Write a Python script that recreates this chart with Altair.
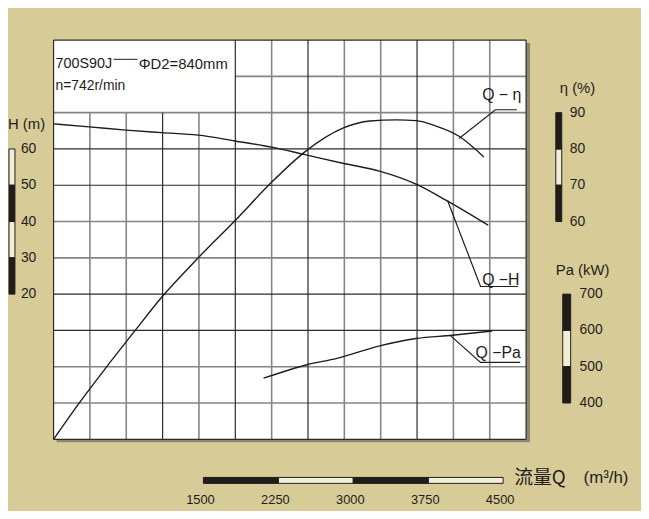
import altair as alt
import pandas as pd

# ---------------- data ----------------
QMAX = 4730.0
GRID_DOMAIN = [0, 110]     # also the efficiency (%) scale
H_DOMAIN = [-20, 90]       # head (m)
PA_DOMAIN = [300, 1400]    # shaft power (kW)

# Q-H curve (m)
qh_q = [0, 357, 724, 1081, 1448, 1815, 2182, 2506, 2906, 3262, 3629, 3927, 4350]
qh_h = [66.9, 66.1, 65.2, 64.5, 63.8, 62.2, 60.5, 58.5, 56.0, 53.9, 50.3, 45.9, 39.0]

# Q-eta curve (%)
qe_q = [0, 238, 535, 823, 1084, 1448, 1818, 2182, 2506, 2902, 3166, 3431, 3629, 3828, 4059, 4307]
qe_eta = [0, 9.3, 20.1, 30.2, 39.2, 50.0, 60.3, 70.8, 79.0, 85.8, 87.7, 88.0, 87.8, 86.3, 83.5, 77.8]

# Q-Pa curve (kW)
qp_q = [2102, 2538, 2836, 3265, 3629, 3993, 4390]
qp_pa = [468.4, 505.5, 523.0, 557.4, 577.6, 586.6, 598.3]

# scale bars (lo, hi, kind)  d = dark, l = light
h_seg_lo = [50, 40, 30, 20]
h_seg_hi = [60, 50, 40, 30]
h_seg_kind = ["l", "d", "l", "d"]
h_ticks = [60, 50, 40, 30, 20]

eta_seg_lo = [80, 70, 60]
eta_seg_hi = [90, 80, 70]
eta_seg_kind = ["d", "l", "d"]
eta_ticks = [90, 80, 70, 60]

pa_seg_lo = [600, 500, 400]
pa_seg_hi = [700, 600, 500]
pa_seg_kind = ["d", "l", "d"]
pa_ticks = [700, 600, 500, 400]

q_seg_lo = [1500, 2250, 3000, 3750]
q_seg_hi = [2250, 3000, 3750, 4500]
q_seg_kind = ["d", "l", "d", "l"]
q_ticks = [1500, 2250, 3000, 3750, 4500]

# leader lines for curve labels (Q, grid units)
lead_grp = ["eta", "eta", "eta", "H", "H", "H", "Pa", "Pa", "Pa"]
lead_q = [4638, 4423, 4059, 4648, 4274, 3944, 4671, 4274, 3976]
lead_h = [90.8, 90.8, 82.9, 42.1, 42.1, 65.8, 21.2, 21.2, 28.5]

curve_labels = ["Q − η", "Q −H", "Q −Pa"]
curve_label_q = [4486, 4477, 4451]
curve_label_h = [94.9, 43.9, 23.9]

# ---------------- styles ----------------
BG = "#d7cc98"
INK = "#1f1c1a"
LIGHT = "#f3eed8"
GRID_G = "#858585"
GRID_D = "#2b2b2b"
FONT = "Liberation Sans"

xs = alt.Scale(domain=[0, QMAX], nice=False, zero=False)
gs = alt.Scale(domain=GRID_DOMAIN, nice=False, zero=False)
hs = alt.Scale(domain=H_DOMAIN, nice=False, zero=False)
ps = alt.Scale(domain=PA_DOMAIN, nice=False, zero=False)


def X(f):
    return alt.X(f, type="quantitative", scale=xs, axis=None)


def YG(f):
    return alt.Y(f, type="quantitative", scale=gs, axis=None)


def YH(f):
    return alt.Y(f, type="quantitative", scale=hs, axis=None)


def YP(f):
    return alt.Y(f, type="quantitative", scale=ps, axis=None)


one = pd.DataFrame({"a": [0]})

layers = []

# shadow + white plot background
layers.append(alt.Chart(one).mark_rect(color="#8d8870").encode(
    x=alt.value(3), x2=alt.value(481), y=alt.value(3), y2=alt.value(406)))
layers.append(alt.Chart(one).mark_rect(color="white").encode(
    x=alt.value(0), x2=alt.value(477), y=alt.value(0), y2=alt.value(403)))

# grid
rows = []
dark_cols = {0, 3, 5, 7, 10, 13}
for i in range(14):
    q = QMAX * i / 13
    top = 90 if 1 <= i <= 4 else 110
    rows.append({"x": q, "x2": q, "y": 0, "y2": top, "k": "d" if i in dark_cols else "g"})
dark_rows = {0, 30, 40, 70, 80, 110}
for h in range(0, 111, 10):
    x0 = QMAX * 5 / 13 if h == 100 else 0
    rows.append({"x": x0, "x2": QMAX, "y": h, "y2": h, "k": "d" if h in dark_rows else "g"})
grid = pd.DataFrame(rows)
for k, col, w in [("g", GRID_G, 1.6), ("d", GRID_D, 1.2)]:
    layers.append(alt.Chart(grid[grid.k == k]).mark_rule(color=col, strokeWidth=w).encode(
        x=X("x"), x2="x2", y=YG("y"), y2="y2"))

# curves
df_h = pd.DataFrame({"q": qh_q, "v": qh_h})
df_e = pd.DataFrame({"q": qe_q, "v": qe_eta})
df_p = pd.DataFrame({"q": qp_q, "v": qp_pa})
layers.append(alt.Chart(df_h).mark_line(color=INK, strokeWidth=1.4, interpolate="monotone").encode(
    x=X("q"), y=YH("v")))
layers.append(alt.Chart(df_e).mark_line(color=INK, strokeWidth=1.4, interpolate="monotone").encode(
    x=X("q"), y=YG("v")))
layers.append(alt.Chart(df_p).mark_line(color=INK, strokeWidth=1.4, interpolate="monotone").encode(
    x=X("q"), y=YP("v")))

# leader lines and labels
df_lead = pd.DataFrame({"g": lead_grp, "q": lead_q, "h": lead_h, "o": list(range(len(lead_q)))})
layers.append(alt.Chart(df_lead).mark_line(color=INK, strokeWidth=1.2).encode(
    x=X("q"), y=YG("h"), detail="g:N", order="o:Q"))
df_cl = pd.DataFrame({"t": curve_labels, "q": curve_label_q, "h": curve_label_h})
layers.append(alt.Chart(df_cl).mark_text(font=FONT, fontSize=16, color=INK, align="center",
                                         baseline="middle").encode(
    x=X("q"), y=YG("h"), text="t:N"))

# top-left info box
df_info = pd.DataFrame({"t": ["700S90J", "ΦD2=840mm", "n=742r/min"],
                        "q": [20, 853, 20], "h": [103.5, 103.5, 97.2],
                        "s": [14.5, 15, 14]})
layers.append(alt.Chart(df_info).mark_text(font=FONT, color=INK, align="left",
                                           baseline="middle").encode(
    x=X("q"), y=YG("h"), text="t:N", size=alt.Size("s:Q", scale=None, legend=None)))
df_dash = pd.DataFrame({"x": [600], "x2": [840], "y": [104.7]})
layers.append(alt.Chart(df_dash).mark_rule(color=INK, strokeWidth=1).encode(
    x=X("x"), x2="x2", y=YG("y")))


# side scale bars
def bar_layers(lo, hi, kind, xa, xb, yenc):
    d = pd.DataFrame({"lo": lo, "hi": hi, "k": kind})
    out = []
    for k, col in [("l", LIGHT), ("d", INK)]:
        out.append(alt.Chart(d[d.k == k]).mark_rect(fill=col, stroke=INK, strokeWidth=1).encode(
            x=alt.value(xa), x2=alt.value(xb), y=yenc("lo"), y2="hi"))
    return out


layers += bar_layers(h_seg_lo, h_seg_hi, h_seg_kind, -45, -39, YH)
layers += bar_layers(eta_seg_lo, eta_seg_hi, eta_seg_kind, 507, 513, YG)
layers += bar_layers(pa_seg_lo, pa_seg_hi, pa_seg_kind, 514, 522, YP)

tick_style = dict(font=FONT, fontSize=14, color=INK, align="left", baseline="middle")
layers.append(alt.Chart(pd.DataFrame({"v": h_ticks})).mark_text(**tick_style).encode(
    x=alt.value(-33), y=YH("v"), text=alt.Text("v:Q", format="d")))
layers.append(alt.Chart(pd.DataFrame({"v": eta_ticks})).mark_text(**tick_style).encode(
    x=alt.value(521), y=YG("v"), text=alt.Text("v:Q", format="d")))
layers.append(alt.Chart(pd.DataFrame({"v": pa_ticks})).mark_text(**tick_style).encode(
    x=alt.value(531), y=YP("v"), text=alt.Text("v:Q", format="d")))

# bottom flow bar
dq = pd.DataFrame({"lo": q_seg_lo, "hi": q_seg_hi, "k": q_seg_kind})
for k, col in [("l", LIGHT), ("d", INK)]:
    layers.append(alt.Chart(dq[dq.k == k]).mark_rect(fill=col, stroke=INK, strokeWidth=1).encode(
        x=X("lo"), x2="hi", y=alt.value(441.5), y2=alt.value(447.5)))
layers.append(alt.Chart(pd.DataFrame({"v": q_ticks})).mark_text(
    font=FONT, fontSize=13, color=INK, align="center", baseline="middle", dx=-3).encode(
    x=X("v"), y=alt.value(464), text=alt.Text("v:Q", format="d")))

# titles
titles = [
    ("H (m)", -46, 85, 15, FONT),
    ("η (%)", 511, 48, 15, FONT),
    ("Pa (kW)", 507, 232, 15, FONT),
    ("流量Q", 465, 442, 19, "Noto Sans CJK SC"),
    ("(m³/h)", 535, 442, 17, FONT),
]
for t, x, y, s, f in titles:
    layers.append(alt.Chart(one).mark_text(text=t, font=f, fontSize=s, color=INK, align="left",
                                           baseline="middle").encode(
        x=alt.value(x), y=alt.value(y)))

chart = alt.layer(*layers).resolve_scale(y="independent").properties(
    width=477, height=403,
    autosize=alt.AutoSizeParams(type="none"),
    padding={"left": 46, "top": 30, "right": 116, "bottom": 70},
    background=BG,
).configure_view(strokeWidth=0)

chart.save("out.html", embed_options={"renderer": "svg", "actions": False})
